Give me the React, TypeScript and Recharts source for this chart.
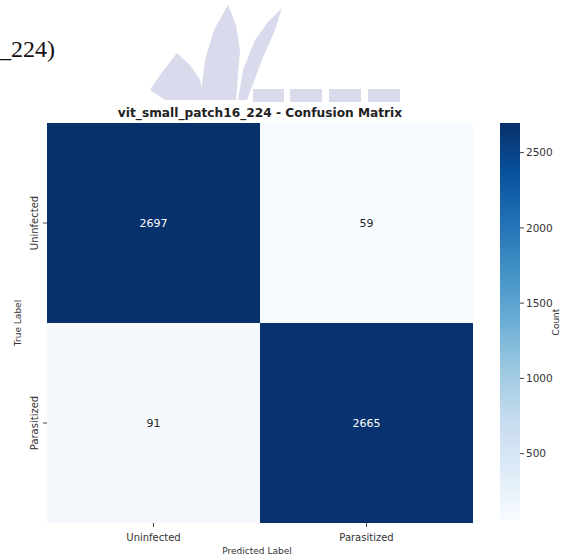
import { BarChart, Bar, XAxis, YAxis } from 'recharts'

const predictedLabels = ['Uninfected', 'Parasitized']
const trueLabels = ['Uninfected', 'Parasitized']
// rows of the matrix (true label), columns = predicted label
const uninfectedRow = [2697, 59]
const parasitizedRow = [91, 2665]
const colorbarTicks = [500, 1000, 1500, 2000, 2500]

const vmin = 59
const vmax = 2697
const font = '"DejaVu Sans", sans-serif'

const blueStops = ['#f7fbff', '#deebf7', '#c6dbef', '#9ecae1', '#6baed6', '#4292c6', '#2171b5', '#08519c', '#08306b']

function hexToRgb(h: string) {
  return [parseInt(h.slice(1, 3), 16), parseInt(h.slice(3, 5), 16), parseInt(h.slice(5, 7), 16)]
}

function blues(v: number) {
  const t = Math.max(0, Math.min(1, (v - vmin) / (vmax - vmin)))
  const p = t * 8
  const i = Math.min(7, Math.floor(p))
  const f = p - i
  const a = hexToRgb(blueStops[i])
  const b = hexToRgb(blueStops[i + 1])
  const c = a.map((x, k) => Math.round(x + (b[k] - x) * f))
  return `rgb(${c[0]},${c[1]},${c[2]})`
}

// one stacked unit per matrix row, so every cell has the same height
const matrixData = predictedLabels.map((p, i) => ({
  pred: p,
  paraCell: 1,
  uninfCell: 1,
  para: parasitizedRow[i],
  uninf: uninfectedRow[i],
}))

const colorbarData = [{ name: 'Count', range: [vmin, vmax] }]

const makeCell = (row: number[]) => (props: any) => {
  const { x, y, width, height, index } = props
  const v = row[index]
  const dark = (v - vmin) / (vmax - vmin) > 0.5
  return (
    <g>
      <rect x={x} y={y} width={width} height={height} fill={blues(v)} />
      <text
        x={x + width / 2}
        y={y + height / 2 + 4}
        textAnchor="middle"
        fontSize={11}
        fontFamily={font}
        fill={dark ? '#ffffff' : '#262626'}
      >
        {v}
      </text>
    </g>
  )
}

const XTick = (props: any) => {
  const { x, y, payload } = props
  return (
    <text x={x} y={y + 12} textAnchor="middle" fontSize={10} fontFamily={font} fill="#333">
      {payload.value}
    </text>
  )
}

const YTick = (props: any) => {
  const { x, y, payload } = props
  const label = payload.value > 1 ? trueLabels[0] : trueLabels[1]
  const bx = x - 3
  return (
    <text
      x={bx}
      y={y}
      transform={`rotate(-90 ${bx} ${y})`}
      textAnchor="middle"
      fontSize={10}
      fontFamily={font}
      fill="#333"
    >
      {label}
    </text>
  )
}

export default function App() {
  return (
    <div style={{ position: 'absolute', left: 0, top: 0, width: 561, height: 556, background: '#fff', overflow: 'hidden' }}>
      <svg width={561} height={556} style={{ position: 'absolute', left: 0, top: 0 }}>
        <g fill="#d9daec">
          <polygon points="228,5 236,25 240,50 236,100 200,100 205,60 214,30" />
          <polygon points="282,8 275,30 262,60 247,100 238,100 243,70 255,40 268,22" />
          <polygon points="177,53 190,65 200,80 205,100 165,100 150,90 160,75" />
          <rect x={253} y={89} width={31} height={13} />
          <rect x={290} y={89} width={32} height={13} />
          <rect x={329} y={89} width={32} height={13} />
          <rect x={368} y={89} width={32} height={13} />
        </g>
        <text x={-1} y={57} fontSize={24} fontFamily='"Liberation Serif", serif' fill="#111">
          _224)
        </text>
        <text x={260} y={117} textAnchor="middle" fontSize={12.2} fontWeight="bold" fontFamily={font} fill="#222">
          vit_small_patch16_224 - Confusion Matrix
        </text>
        <text x={21} y={323} transform="rotate(-90 21 323)" textAnchor="middle" fontSize={9} fontFamily={font} fill="#333">
          True Label
        </text>
        <text x={257} y={554} textAnchor="middle" fontSize={9} fontFamily={font} fill="#333">
          Predicted Label
        </text>
        <text x={559} y={322} transform="rotate(-90 559 322)" textAnchor="middle" fontSize={9} fontFamily={font} fill="#333">
          Count
        </text>
      </svg>

      <div style={{ position: 'absolute', left: 0, top: 0 }}>
        <BarChart
          width={561}
          height={556}
          data={matrixData}
          margin={{ top: 123, right: 88, bottom: 0, left: 0 }}
          barCategoryGap={0}
          barGap={0}
        >
          <XAxis
            dataKey="pred"
            height={33}
            axisLine={false}
            tickLine={{ stroke: '#444' }}
            tickSize={4}
            interval={0}
            tick={<XTick />}
          />
          <YAxis
            type="number"
            domain={[0, 2]}
            ticks={[0.5, 1.5]}
            width={47}
            axisLine={false}
            tickLine={{ stroke: '#444' }}
            tickSize={4}
            tick={<YTick />}
          />
          <Bar dataKey="paraCell" stackId="cm" isAnimationActive={false} shape={makeCell(parasitizedRow)} />
          <Bar dataKey="uninfCell" stackId="cm" isAnimationActive={false} shape={makeCell(uninfectedRow)} />
        </BarChart>
      </div>

      <div style={{ position: 'absolute', left: 500, top: 0 }}>
        <BarChart
          width={61}
          height={556}
          data={colorbarData}
          margin={{ top: 123, right: 0, bottom: 36, left: 0 }}
          barCategoryGap={0}
        >
          <defs>
            <linearGradient id="bluesGrad" x1="0" y1="1" x2="0" y2="0">
              {blueStops.map((c, i) => (
                <stop key={c} offset={i / 8} stopColor={c} />
              ))}
            </linearGradient>
          </defs>
          <XAxis dataKey="name" hide />
          <YAxis
            orientation="right"
            type="number"
            domain={[vmin, vmax]}
            ticks={colorbarTicks}
            width={41}
            axisLine={false}
            tickLine={{ stroke: '#444' }}
            tickSize={4}
            tickMargin={2}
            tick={{ fontSize: 10.5, fill: '#333', fontFamily: font }}
          />
          <Bar dataKey="range" fill="url(#bluesGrad)" isAnimationActive={false} />
        </BarChart>
      </div>
    </div>
  )
}
